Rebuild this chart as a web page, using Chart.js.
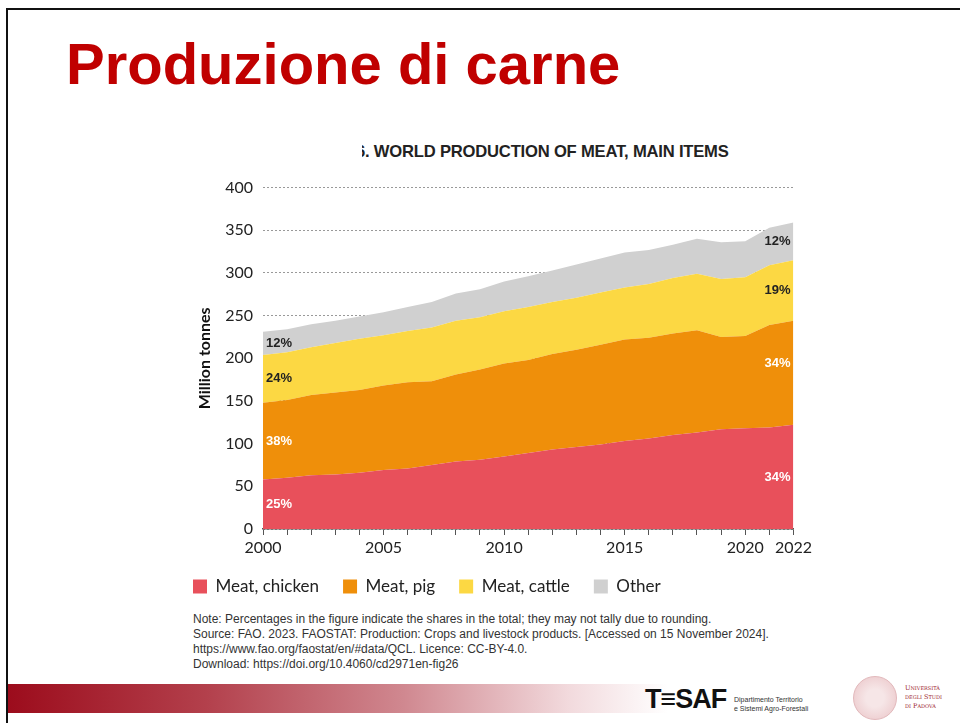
<!DOCTYPE html>
<html>
<head>
<meta charset="utf-8">
<script src="https://cdn.jsdelivr.net/npm/chart.js@4.4.1/dist/chart.umd.min.js"></script>
<style>
  html, body { margin: 0; padding: 0; background: #fff; }
  body { width: 960px; height: 723px; position: relative; overflow: hidden; font-family: Lato, "Noto Sans", sans-serif; }
  .frame { position: absolute; left: 6px; top: 8px; width: 960px; height: 730px; border-left: 2px solid #111; border-top: 2px solid #111; }
  .title { position: absolute; left: 66px; top: 30px; font-family: "Liberation Sans", Arial, sans-serif; font-weight: bold; font-size: 58px; color: #c00000; }
  .ctitle { position: absolute; left: 362px; top: 141px; width: 420px; overflow: hidden; white-space: nowrap; }
  .ctitle span { display: inline-block; margin-left: -6px; font-family: "Liberation Sans", Arial, sans-serif; font-weight: bold; font-size: 16.6px; letter-spacing: -0.2px; color: #222; }
  #wrap { position: absolute; left: 169px; top: 168px; width: 646px; height: 437px; }
  .note { position: absolute; left: 193px; top: 612px; font-family: "Liberation Sans", Arial, sans-serif; font-size: 12px; line-height: 15px; color: #333; }
  .bar { position: absolute; left: 8px; top: 684px; width: 660px; height: 29px; background: linear-gradient(to right, #9c0c1c 0%, #b3404c 30%, #d08890 60%, #f2dadd 85%, #ffffff 100%); }
  .tesaf { position: absolute; left: 645px; top: 684px; font-family: "Liberation Sans", Arial, sans-serif; font-weight: bold; font-size: 27px; color: #111; letter-spacing: -1px; }
  .tesaf-sub { position: absolute; left: 734px; top: 695px; font-family: "Liberation Sans", Arial, sans-serif; font-size: 7px; line-height: 9px; color: #333; }
  .seal { position: absolute; left: 853px; top: 676px; width: 42px; height: 42px; border-radius: 50%; border: 1px solid #e2b8bb; background: radial-gradient(circle, #f6e6e7 30%, #efd2d4 70%, #f8eaeb 100%); }
  .unipd { position: absolute; left: 905px; top: 684px; font-family: "DejaVu Serif", serif; font-size: 6.5px; line-height: 9px; color: #9c1c2c; font-variant: small-caps; }
</style>
</head>
<body>
<div class="frame"></div>
<div class="title">Produzione di carne</div>
<div class="ctitle"><span>6. WORLD PRODUCTION OF MEAT, MAIN ITEMS</span></div>
<div id="wrap"><canvas id="meatChart"></canvas></div>
<div class="note">
Note: Percentages in the figure indicate the shares in the total; they may not tally due to rounding.<br>
Source: FAO. 2023. FAOSTAT: Production: Crops and livestock products. [Accessed on 15 November 2024].<br>
https://www.fao.org/faostat/en/#data/QCL. Licence: CC-BY-4.0.<br>
Download: https://doi.org/10.4060/cd2971en-fig26
</div>
<div class="bar"></div>
<div class="tesaf">T&#8801;SAF</div>
<div class="tesaf-sub">Dipartimento Territorio<br>e Sistemi Agro-Forestali</div>
<div class="seal"></div>
<div class="unipd">Università<br>degli Studi<br>di Padova</div>

<script>
// dati (milioni di tonnellate)
const anni = ['2000','2001','2002','2003','2004','2005','2006','2007','2008','2009','2010','2011',
              '2012','2013','2014','2015','2016','2017','2018','2019','2020','2021','2022'];
const pollo  = [58, 60, 63, 64, 66, 69, 71, 75, 79, 81, 85, 89, 93, 96, 99, 103, 106, 110, 113, 117, 118, 119, 122];
const maiale = [90, 91, 94, 96, 97, 99, 101, 98, 102, 106, 109, 109, 112, 114, 117, 119, 118, 119, 120, 108, 108, 120, 122];
const bovino = [56, 56, 56, 58, 60, 59, 60, 63, 63, 61, 61, 62, 61, 61, 61, 61, 63, 65, 66, 68, 69, 70, 71];
const altro  = [27, 27, 27, 26, 26, 27, 28, 30, 32, 33, 35, 36, 37, 39, 40, 41, 40, 39, 41, 43, 42, 44, 44];
const tickAnni = ['2000', '2005', '2010', '2015', '2020', '2022'];
const quote2000 = [25, 38, 24, 12];
const quote2022 = [34, 34, 19, 12];

const nomi = ['Meat, chicken', 'Meat, pig', 'Meat, cattle', 'Other'];
const colori = ['#e8505b', '#ef8f0a', '#fcd843', '#d0d0d0'];
const coloriTesto = ['#fff', '#fff', '#222', '#222'];
const serie = [pollo, maiale, bovino, altro];

// etichette percentuali dentro le aree
const percentuali = {
  id: 'percentuali',
  afterDatasetsDraw(chart) {
    const ctx = chart.ctx;
    const x = chart.scales.x, y = chart.scales.y;
    const ultimo = anni.length - 1;
    ctx.save();
    ctx.font = 'bold 13px "Liberation Sans", Arial, sans-serif';
    ctx.textBaseline = 'middle';
    let base0 = 0, baseN = 0;
    serie.forEach((s, i) => {
      ctx.fillStyle = coloriTesto[i];
      const m0 = base0 + s[0] / 2;
      const mN = baseN + s[ultimo] / (i == 1 ? 1.7 : 2);
      ctx.textAlign = 'left';
      ctx.fillText(quote2000[i] + '%', x.getPixelForValue(0) + 3, y.getPixelForValue(m0));
      ctx.textAlign = 'right';
      ctx.fillText(quote2022[i] + '%', x.getPixelForValue(ultimo) - 3, y.getPixelForValue(mN));
      base0 += s[0];
      baseN += s[ultimo];
    });
    ctx.restore();
  }
};

const ctx = document.getElementById('meatChart').getContext('2d');
new Chart(ctx, {
  type: 'line',
  data: {
    labels: anni,
    datasets: serie.map((s, i) => ({
      label: nomi[i],
      data: s,
      backgroundColor: colori[i],
      borderColor: colori[i],
      borderWidth: 0,
      pointRadius: 0,
      fill: i == 0 ? 'origin' : '-1',
      tension: 0
    }))
  },
  options: {
    responsive: true,
    maintainAspectRatio: false,
    animation: false,
    layout: { padding: { top: 5, right: 4, left: 0, bottom: 0 } },
    plugins: {
      legend: {
        position: 'bottom',
        align: 'start',
        labels: {
          boxWidth: 14, boxHeight: 14, padding: 24,
          color: '#222',
          font: { family: 'Lato, "Noto Sans", sans-serif', size: 17 }
        }
      },
      tooltip: { enabled: false }
    },
    scales: {
      x: {
        stacked: true,
        offset: false,
        grid: { drawOnChartArea: false, drawTicks: true, tickLength: 6, color: '#555' },
        border: { display: true, color: '#555', width: 1.5 },
        afterFit: (s) => { s.height = 25; },
        ticks: {
          autoSkip: false, maxRotation: 0, color: '#222', padding: 3,
          font: { family: 'Lato, "Noto Sans", sans-serif', size: 16 },
          callback: function (v) { const l = anni[v]; return tickAnni.includes(l) ? l : ''; }
        }
      },
      y: {
        stacked: true,
        min: 0, max: 400,
        afterFit: (s) => { s.width = 94; },
        grid: { color: '#999', lineWidth: 1, drawTicks: false },
        border: { display: false, dash: [2, 2] },
        ticks: {
          stepSize: 50, color: '#222', padding: 10,
          font: { family: 'Lato, "Noto Sans", sans-serif', size: 16 }
        },
        title: {
          display: true, text: 'Million tonnes', color: '#111', padding: { top: 26, bottom: 0 },
          font: { family: 'Lato, "Noto Sans", sans-serif', size: 16, weight: 'bold' }
        }
      }
    }
  },
  plugins: [percentuali]
});
</script>
</body>
</html>
